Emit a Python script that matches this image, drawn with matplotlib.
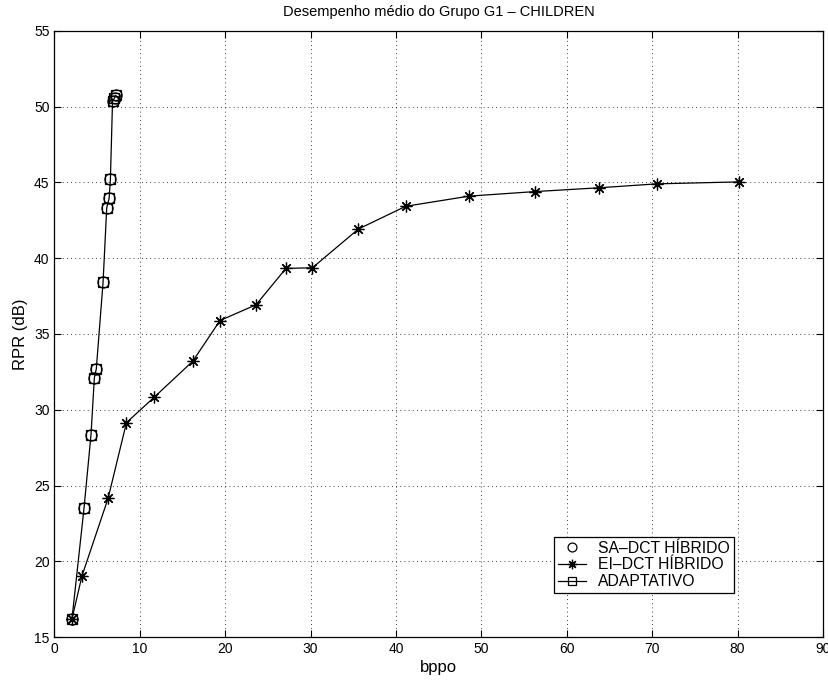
import matplotlib.pyplot as plt

plt.rcParams['font.family'] = ['Liberation Sans', 'DejaVu Sans']

# taxa (bppo) x RPR (dB)
sa_x = [2.05, 3.46, 4.28, 4.67, 4.90, 5.69, 6.12, 6.40, 6.55, 6.85, 7.05, 7.20]
sa_y = [16.2, 23.5, 28.35, 32.1, 32.7, 38.4, 43.3, 43.95, 45.2, 50.4, 50.6, 50.8]

ei_x = [2.05, 3.22, 6.28, 8.43, 11.67, 16.19, 19.39, 23.61, 27.11, 30.21,
        35.6, 41.14, 48.56, 56.28, 63.75, 70.56, 80.16]
ei_y = [16.2, 19.03, 24.15, 29.15, 30.82, 33.2, 35.89, 36.93, 39.33, 39.37,
        41.93, 43.43, 44.1, 44.4, 44.65, 44.91, 45.04]

ad_x = [2.05, 3.46, 4.28, 4.67, 4.90, 5.69, 6.12, 6.40, 6.55, 6.80, 7.00, 7.20]
ad_y = [16.2, 23.5, 28.35, 32.1, 32.7, 38.4, 43.33, 43.95, 45.2, 50.35, 50.55, 50.75]

fig = plt.figure(figsize=(8.29, 6.84), dpi=100)
ax = fig.add_axes([0.0657, 0.0687, 0.927, 0.886])

ax.plot(sa_x, sa_y, linestyle='none', marker='o', markersize=8,
        markerfacecolor='none', markeredgecolor='k', markeredgewidth=0.9,
        label='SA\u2013DCT HÍBRIDO')
ax.plot(ei_x, ei_y, color='k', linewidth=0.9, marker=(8, 2, 0), markersize=8.5,
        markeredgewidth=0.9, label='EI\u2013DCT HÍBRIDO')
ax.plot(ad_x, ad_y, color='k', linewidth=0.9, marker='s', markersize=7,
        markerfacecolor='none', markeredgecolor='k', markeredgewidth=0.9,
        label='ADAPTATIVO')

ax.set_xlim(0, 90)
ax.set_ylim(15, 55)
ax.set_xticks(range(0, 91, 10))
ax.set_yticks(range(15, 56, 5))
ax.grid(True, color='k', linestyle=(0, (1, 4)), linewidth=0.6)
ax.tick_params(direction='in', top=True, right=True, labelsize=10, length=5)
for s in ax.spines.values():
    s.set_linewidth(0.9)

ax.set_title('Desempenho médio do Grupo G1 \u2013 CHILDREN', fontsize=10.5, pad=11)
ax.set_xlabel('bppo', fontsize=12, labelpad=3)
ax.set_ylabel('RPR (dB)', fontsize=12, labelpad=4)

leg = ax.legend(loc='center', bbox_to_anchor=(0.767, 0.119), fontsize=11.3,
                frameon=True, fancybox=False, edgecolor='k', framealpha=1,
                borderpad=0.25, labelspacing=0.12, handlelength=1.8,
                handletextpad=0.75, borderaxespad=0, markerscale=0.8)
leg.get_frame().set_linewidth(0.9)

fig.savefig('out.png', dpi=100)
